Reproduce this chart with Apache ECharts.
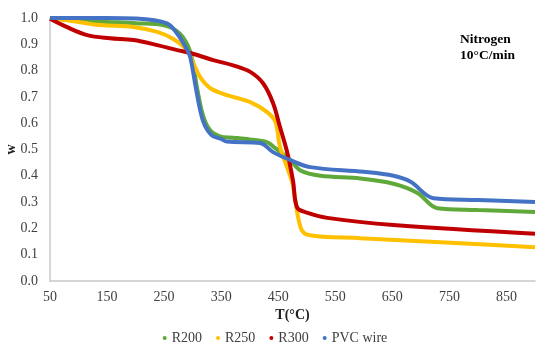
<!DOCTYPE html>
<html>
<head>
<meta charset="utf-8">
<script src="https://cdn.jsdelivr.net/npm/echarts@6/dist/echarts.min.js"></script>
<style>html,body{margin:0;padding:0;background:#fff}#c{width:550px;height:353px}</style>
</head>
<body>
<div id="c"></div>
<script>
var seriesNames = ['R200', 'R250', 'R300', 'PVC wire'];
var colors = ['#5FA83A', '#FFC000', '#C00000', '#4472C4'];

var tR200 = [50, 100, 150, 200, 250, 278, 296, 308, 318, 330, 348, 371, 400, 430, 445, 471, 489, 524, 594, 652, 694, 729, 800, 900];
var wR200 = [1.0, 0.99, 0.985, 0.98, 0.972, 0.94, 0.87, 0.73, 0.63, 0.575, 0.55, 0.545, 0.538, 0.528, 0.505, 0.46, 0.42, 0.40, 0.39, 0.37, 0.335, 0.277, 0.27, 0.262];

var tR250 = [50, 100, 138, 196, 238, 266, 290, 301, 313, 331, 360, 401, 430, 445, 453, 466, 475, 489, 503, 594, 769, 900];
var wR250 = [1.0, 0.985, 0.973, 0.966, 0.947, 0.92, 0.878, 0.83, 0.776, 0.733, 0.707, 0.68, 0.643, 0.605, 0.51, 0.43, 0.37, 0.205, 0.175, 0.163, 0.144, 0.128];

var tR300 = [50, 79, 115, 155, 196, 238, 273, 296, 336, 371, 401, 424, 441, 453, 466, 476, 483, 500, 536, 652, 900];
var wR300 = [0.997, 0.966, 0.935, 0.923, 0.916, 0.897, 0.878, 0.867, 0.84, 0.82, 0.795, 0.75, 0.676, 0.586, 0.487, 0.38, 0.28, 0.26, 0.24, 0.213, 0.18];

var tPVC = [50, 150, 200, 255, 273, 290, 296, 306, 318, 333, 350, 360, 418, 441, 471, 506, 600, 652, 682, 722, 800, 900];
var wPVC = [1.0, 1.0, 0.998, 0.98, 0.94, 0.88, 0.85, 0.73, 0.61, 0.555, 0.54, 0.53, 0.525, 0.49, 0.46, 0.433, 0.415, 0.40, 0.377, 0.315, 0.308, 0.30];

var xTicks = [50, 150, 250, 350, 450, 550, 650, 750, 850];

function pairs(t, w) { return t.map(function (v, i) { return [v, w[i]]; }); }
var allT = [tR200, tR250, tR300, tPVC];
var allW = [wR200, wR250, wR300, wPVC];

var font = '"Liberation Serif", "Times New Roman", serif';
var chart = echarts.init(document.getElementById('c'));
chart.setOption({
  animation: false,
  textStyle: { fontFamily: font },
  grid: { left: 50, right: 15, top: 18, bottom: 72, containLabel: false, outerBoundsMode: 'none' },
  title: {
    text: 'Nitrogen\n10°C/min',
    left: 455, top: 27,
    textStyle: { fontFamily: font, fontWeight: 'bold', fontSize: 13.5, color: '#000', lineHeight: 16 }
  },
  legend: {
    data: seriesNames,
    bottom: 3, left: 'center',
    icon: 'circle', itemWidth: 4, itemHeight: 4, itemGap: 14,
    textStyle: { fontFamily: font, fontSize: 14, color: '#404040' }
  },
  xAxis: {
    type: 'value', min: 50, max: 900, interval: 100,
    name: 'T(°C)', nameLocation: 'middle', nameGap: 27, nameMoveOverlap: false,
    nameTextStyle: { fontFamily: font, fontWeight: 'bold', fontSize: 14, color: '#222' },
    axisLine: { show: true, lineStyle: { color: '#C8C8C8', width: 1.5 } },
    axisTick: { show: false },
    splitLine: { show: false },
    axisLabel: {
      showMaxLabel: false, margin: 9,
      fontFamily: font, fontSize: 14, color: '#404040',
      formatter: function (v) { return xTicks.indexOf(v) >= 0 ? String(v) : ''; }
    }
  },
  yAxis: {
    type: 'value', min: 0, max: 1, interval: 0.1,
    name: 'w', nameLocation: 'middle', nameGap: 32, nameRotate: 90, nameMoveOverlap: false,
    nameTextStyle: { fontFamily: font, fontWeight: 'bold', fontSize: 14, color: '#222' },
    axisLine: { show: true, lineStyle: { color: '#C8C8C8', width: 1.5 } },
    axisTick: { show: false },
    splitLine: { show: false },
    axisLabel: {
      margin: 12, fontFamily: font, fontSize: 14, color: '#404040',
      formatter: function (v) { return v.toFixed(1); }
    }
  },
  series: seriesNames.map(function (n, i) {
    return {
      name: n, type: 'line', smooth: 0.35, showSymbol: false,
      data: pairs(allT[i], allW[i]),
      itemStyle: { color: colors[i] },
      lineStyle: { color: colors[i], width: 4 }
    };
  })
});
</script>
</body>
</html>
